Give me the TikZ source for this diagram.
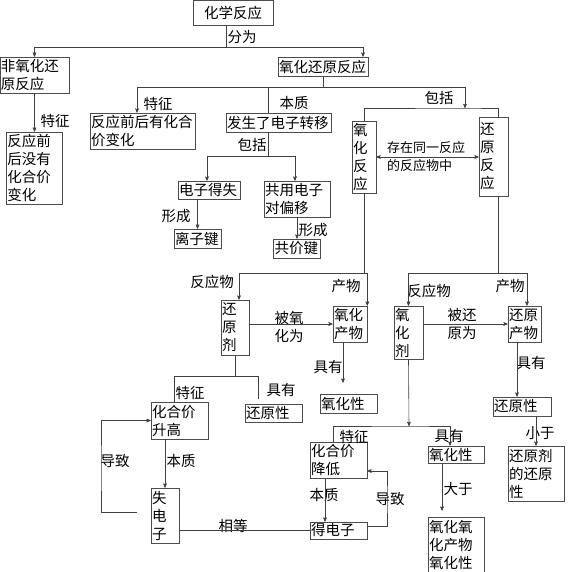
\documentclass[tikz,border=0pt]{standalone}
\usepackage{fontspec}
\newfontfamily\cjk{Noto Sans CJK SC}
\usetikzlibrary{arrows,positioning,calc}

\begin{document}
\begin{tikzpicture}[
  x=1pt, y=1pt, line width=0.6pt, >=stealth', draw=black!75,
  font=\cjk\fontsize{14.5}{18}\selectfont,
  box/.style={rectangle, draw=black!70, inner sep=1pt, align=left},
  lbl/.style={inner sep=0pt, align=left}
]
\useasboundingbox (0,0) rectangle (576,-572);

\node[box, minimum width=80pt, minimum height=25pt, align=center] (hx) at (233,-12.5) {化学反应};
\node[box, text width=67pt, minimum height=36pt] (fei) at (34.5,-75) {非氧化还\\原反应};
\node[box, text width=54pt, minimum height=72pt] (meiyou) at (34.5,-168) {反应前\\后没有\\化合价\\变化};
\node[box, text width=88pt, minimum height=19pt] (yh) at (323,-66.5) {氧化还原反应};
\node[box, text width=103pt, minimum height=36pt] (youbian) at (142.5,-131) {反应前后有化合\\价变化};
\node[box, text width=103pt, minimum height=19pt] (zhuanyi) at (278.5,-122.5) {发生了电子转移};
\node[box, text width=60pt, minimum height=18pt] (deshi) at (209,-190) {电子得失};
\node[box, text width=64pt, minimum height=36pt] (gongyong) at (297,-199) {共用电子\\对偏移};
\node[box, text width=45pt, minimum height=19pt] (lizi) at (197.5,-238.5) {离子键};
\node[box, text width=45pt, minimum height=19pt] (gongjia) at (297,-248.5) {共价键};
\node[box, text width=22pt, minimum height=72pt] (yhfy) at (364,-157) {氧\\化\\反\\应};
\node[box, text width=27pt, minimum height=79pt] (hyfy) at (493.5,-156.5) {还\\原\\反\\应};

\node[box, text width=26pt, minimum height=55pt] (hyj) at (235,-327.5) {还\\原\\剂};
\node[box, text width=32pt, minimum height=36pt] (yhcw) at (350,-324) {氧化\\产物};
\node[box, text width=55pt, minimum height=19pt] (yhx1) at (348.5,-403.5) {氧化性};
\node[box, text width=55pt, minimum height=37pt] (sg) at (179.5,-420.5) {化合价\\升高};
\node[box, text width=55pt, minimum height=18pt] (hyx1) at (273.5,-413) {还原性};
\node[box, text width=26pt, minimum height=55pt] (shi) at (165,-515.5) {失\\电\\子};
\node[box, text width=55pt, minimum height=17pt] (de) at (338.5,-530.5) {得电子};
\node[box, text width=55pt, minimum height=36pt] (jd) at (338.5,-460) {化合价\\降低};

\node[box, text width=27pt, minimum height=53pt] (yhj) at (408.5,-332.5) {氧\\化\\剂};
\node[box, text width=31pt, minimum height=36pt] (hycw) at (524.5,-324) {还原\\产物};
\node[box, text width=56pt, minimum height=19pt] (hyx2) at (522,-406.5) {还原性};
\node[box, text width=54pt, minimum height=55pt] (hyjx) at (536,-473.5) {还原剂\\的还原\\性};
\node[box, text width=54pt, minimum height=17pt] (yhx2) at (456,-454.5) {氧化性};
\node[box, text width=54pt, minimum height=55pt] (yhcwx) at (456,-544.5) {氧化氧\\化产物\\氧化性};

\node[lbl] (fenwei) at (242,-37) {分为};
\node[lbl] (tz1) at (55,-121) {特征};
\node[lbl] (tz2) at (158,-104) {特征};
\node[lbl] (bz1) at (294,-103) {本质};
\node[lbl] (bk1) at (439,-98) {包括};
\node[lbl] (bk2) at (252,-145) {包括};
\node[lbl, font=\cjk\fontsize{13}{18}\selectfont] (cz) at (426,-157) {存在同一反应\\的反应物中};
\node[lbl] (xc1) at (176,-216) {形成};
\node[lbl] (xc2) at (313,-230) {形成};
\node[lbl] (fyw1) at (212,-282) {反应物};
\node[lbl] (cw1) at (346,-286) {产物};
\node[lbl] (byh) at (289,-327) {被氧\\化为};
\node[lbl] (jy1) at (328,-367) {具有};
\node[lbl] (jy2) at (281,-390) {具有};
\node[lbl] (tz3) at (190,-393) {特征};
\node[lbl] (bz2) at (181,-461) {本质};
\node[lbl] (dz1) at (115,-461) {导致};
\node[lbl] (xd) at (233,-526) {相等};
\node[lbl] (tz4) at (354,-437) {特征};
\node[lbl] (bz3) at (324,-495) {本质};
\node[lbl] (dz2) at (390,-499) {导致};
\node[lbl] (jy3) at (449,-436) {具有};
\node[lbl] (dy) at (458,-489) {大于};
\node[lbl] (xy) at (540,-433) {小于};
\node[lbl] (fyw2) at (429,-291) {反应物};
\node[lbl] (cw2) at (510,-286) {产物};
\node[lbl] (bhy) at (462,-324) {被还\\原为};
\node[lbl] (jy4) at (531,-363) {具有};

\coordinate (fw) at (226,-47);
\coordinate (bz) at (323,-87);
\coordinate (bk) at (465,-108);
\coordinate (bh) at (268,-156);
\coordinate (yw) at (364,-273);
\coordinate (hw) at (235,-376);
\coordinate (jy) at (258,-399);
\coordinate (dl) at (101,-470);
\coordinate (yj) at (409,-426);
\coordinate (dr) at (387,-500);
\coordinate (hy) at (498,-273);

\draw (hx.south -| fw) -- (fw);
\draw[->] (fw) -| (fei.north);
\draw[->] (fw) -| ([xshift=40pt]yh.north);
\draw[->] (fei.south) -- (meiyou.north);

\draw (yh.south) -- (bz);
\draw[->] (bz) -| ([xshift=-5.5pt]youbian.north);
\draw (bz) -| ([xshift=-10.5pt]zhuanyi.north);
\draw[->] (bz) -| (bk);
\draw (yhfy.north) |- (bk) -| ([xshift=4.5pt]hyfy.north);
\draw[<->] (yhfy.east) -- (yhfy.east -| hyfy.west);

\draw (zhuanyi.south -| bh) -- (bh);
\draw[->] (bh) -| ([xshift=-2pt]deshi.north);
\draw[->] (bh) -| ([xshift=-2pt]gongyong.north);
\draw[->] (lizi.north |- deshi.south) -- (lizi.north);
\draw[->] (gongyong.south) -- (gongjia.north);

\draw (yhfy.south) -- (yw);
\draw[->] (yw) -| ([xshift=4pt]hyj.north);
\draw[->] (yw) -| (yhcw.north east);
\draw[->] (hyj.east |- yhcw.west) -- (yhcw.west);
\draw[->] ([xshift=-7pt]yhcw.south) -- ([xshift=-5.5pt,yshift=11pt]yhx1.north);

\draw (hyj.south) -- (hw);
\draw (hw) -| ([xshift=-5.5pt]sg.north);
\draw (hw) -| (jy);
\draw[->] (shi.north |- sg.south) -- (shi.north);
\draw[->] ([xshift=-14pt,yshift=3.5pt]shi.west) -| (dl) |- (sg.west);
\draw (de.west -| shi.east) -- (de.west);

\draw[->] (yhj.south) -- (yj);
\draw[->] ([xshift=-5.5pt]jd.north) |- (yj) -| ([xshift=-6pt]yhx2.north);
\draw[->] ([xshift=-14pt]yhx2.south) -- ([xshift=-14pt,yshift=6pt]yhcwx.north);
\draw[->] ([xshift=-13.5pt]jd.south) -- ([xshift=-13.5pt]de.north);
\draw[->] ([yshift=4.5pt]de.east) -| (dr) |- ([yshift=-11pt]jd.east);

\draw ([xshift=4.5pt]hyfy.south) -- (hy);
\draw[->] (hy) -| (yhj.north);
\draw[->] (hy) -| ([xshift=2.5pt]hycw.north);
\draw[->] (yhj.east |- hycw.west) -- (hycw.west);
\draw[->] ([xshift=-7.5pt]hycw.south) -- ([xshift=-5pt]hyx2.north);
\draw[->] (hyjx.north |- hyx2.south) -- (hyjx.north);

\end{tikzpicture}
\end{document}
